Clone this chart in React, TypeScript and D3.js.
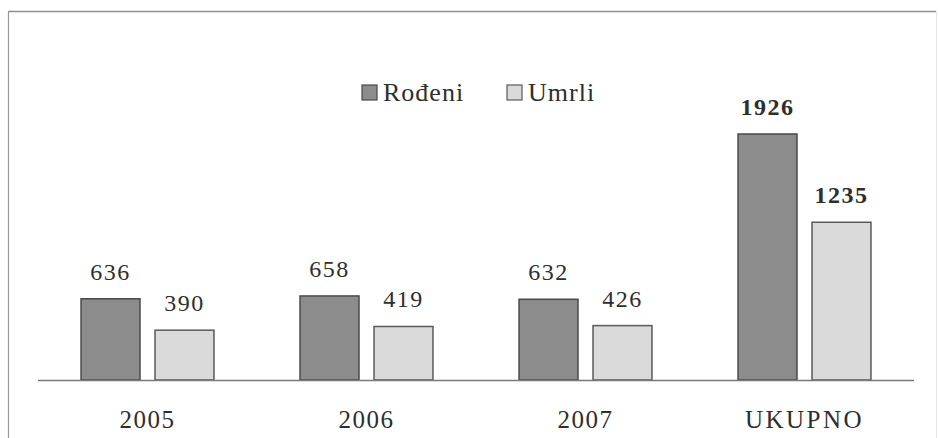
import React, { useEffect, useRef } from 'react';
import * as d3 from 'd3';

const categories = ['2005', '2006', '2007', 'UKUPNO'];
const seriesNames = ['Rođeni', 'Umrli'];
const rodeni = [636, 658, 632, 1926];
const umrli = [390, 419, 426, 1235];
const boldLabels = [false, false, false, true];

const width = 938;
const height = 438;
const fills = ['#8c8c8c', '#dadada'];
const strokes = ['#4a4a4a', '#5a5a5a'];
const font = '"Liberation Serif", "DejaVu Serif", serif';

const App = () => {
    const svgRef = useRef<SVGSVGElement>(null);

    useEffect(() => {
        const svg = d3.select(svgRef.current);
        svg.selectAll('*').remove();

        const margin = { left: 38, right: 24, baseline: 380 };

        // frame of the scanned box
        svg.append('line').attr('x1', 8).attr('x2', 936).attr('y1', 11.5).attr('y2', 11.5)
            .attr('stroke', '#8f8f8f').attr('stroke-width', 1.3);
        svg.append('line').attr('x1', 8.5).attr('x2', 8.5).attr('y1', 11).attr('y2', height)
            .attr('stroke', '#9a9a9a').attr('stroke-width', 1.2);
        svg.append('line').attr('x1', 936.5).attr('x2', 936.5).attr('y1', 11).attr('y2', height)
            .attr('stroke', '#e6e6e6').attr('stroke-width', 1);

        const x0 = d3.scaleBand()
            .domain(categories)
            .range([margin.left, width - margin.right])
            .paddingInner(0.393)
            .paddingOuter(0.1965);

        const x1 = d3.scaleBand()
            .domain(seriesNames)
            .range([0, x0.bandwidth()])
            .paddingInner(0.203);

        const y = d3.scaleLinear()
            .domain([0, 1926])
            .range([margin.baseline, 134]);

        const rows = categories.map((c, i) => ({ cat: c, values: [rodeni[i], umrli[i]], bold: boldLabels[i] }));

        const groups = svg.append('g').selectAll('g')
            .data(rows)
            .join('g')
            .attr('transform', d => `translate(${x0(d.cat)},0)`);

        groups.selectAll('rect')
            .data(d => d.values.map((v, k) => ({ name: seriesNames[k], v, k })))
            .join('rect')
            .attr('x', d => x1(d.name)!)
            .attr('y', d => y(d.v))
            .attr('width', x1.bandwidth())
            .attr('height', d => margin.baseline - y(d.v))
            .attr('fill', d => fills[d.k])
            .attr('stroke', d => strokes[d.k])
            .attr('stroke-width', 1.5);

        groups.selectAll('text.val')
            .data(d => d.values.map((v, k) => ({ name: seriesNames[k], v, bold: d.bold })))
            .join('text')
            .attr('class', 'val')
            .attr('x', d => x1(d.name)! + x1.bandwidth() / 2)
            .attr('y', d => y(d.v) - 19)
            .attr('text-anchor', 'middle')
            .attr('font-family', font)
            .attr('font-size', 24)
            .attr('letter-spacing', 1.5)
            .attr('font-weight', d => (d.bold ? 'bold' : 'normal'))
            .attr('fill', '#2e2e2e')
            .text(d => d.v);

        // baseline axis
        svg.append('line')
            .attr('x1', margin.left).attr('x2', width - margin.right)
            .attr('y1', margin.baseline + 0.5).attr('y2', margin.baseline + 0.5)
            .attr('stroke', '#7a7a7a').attr('stroke-width', 1.5);

        svg.append('g').selectAll('text')
            .data(categories)
            .join('text')
            .attr('x', d => x0(d)! + x0.bandwidth() / 2)
            .attr('y', 428)
            .attr('text-anchor', 'middle')
            .attr('font-family', font)
            .attr('font-size', 25)
            .attr('letter-spacing', d => (d === 'UKUPNO' ? 2.5 : 1.5))
            .attr('fill', '#2e2e2e')
            .text(d => d);

        // legend
        const legendX = [362, 507];
        const legend = svg.append('g').selectAll('g')
            .data(seriesNames)
            .join('g')
            .attr('transform', (d, i) => `translate(${legendX[i]},85)`);
        legend.append('rect')
            .attr('width', 15).attr('height', 15)
            .attr('fill', (d, i) => fills[i])
            .attr('stroke', (d, i) => strokes[i])
            .attr('stroke-width', 1.2);
        legend.append('text')
            .attr('x', 21)
            .attr('y', 16)
            .attr('font-family', font)
            .attr('font-size', 26)
            .attr('letter-spacing', 1)
            .attr('fill', '#2e2e2e')
            .text(d => d);
    }, []);

    return (
        <div style={{ position: 'absolute', left: 0, top: 0 }}>
            <svg ref={svgRef} width={width} height={height} style={{ display: 'block', background: '#fff' }} />
        </div>
    );
};

export default App;
